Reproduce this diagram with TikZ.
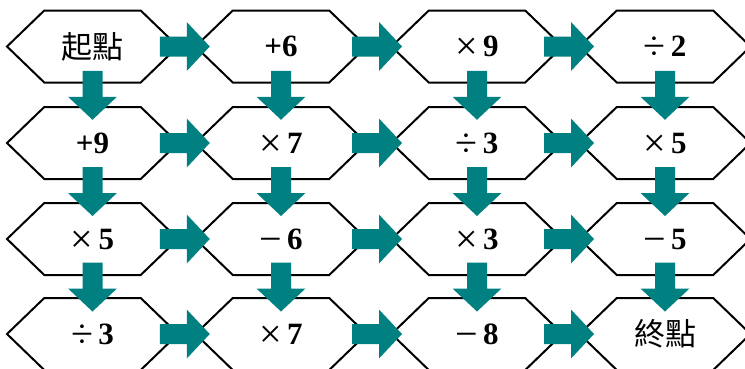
\documentclass[tikz,border=0pt]{standalone}
\usepackage{fontspec}
\setmainfont{Liberation Serif}
\newfontfamily\cjk{Noto Sans CJK TC}
\usepackage{tikz}
\usetikzlibrary{calc,shapes.symbols}
\definecolor{flowteal}{RGB}{0,128,128}

% block arrows between two hexagons
\newcommand{\rarr}[2]{%
  \fill[flowteal] ($(#1.east)!.5!(#2.west)$) ++(-27,-10) -- ++(27,0) -- ++(0,-14.5)
    -- ++(23,24.5) -- ++(-23,24.5) -- ++(0,-14.5) -- ++(-27,0) -- cycle;}
\newcommand{\darr}[2]{%
  \fill[flowteal] ($(#1.south)!.5!(#2.north)$) ++(-10,-24) -- ++(0,26) -- ++(-14.5,0)
    -- ++(24.5,23) -- ++(24.5,-23) -- ++(-14.5,0) -- ++(0,-26) -- cycle;}
\newcommand{\opnum}[2]{\smash{\raisebox{-3pt}{\mdseries\fontsize{40}{40}\selectfont#1}}\,#2}

\begin{document}
\begin{tikzpicture}[x=1pt,y=-1pt,
      hexa/.style={signal,signal to=east and west,signal pointer angle=88,draw=black,
        line width=2,fill=white,minimum width=171,minimum height=72,inner sep=0pt,
        font=\bfseries\fontsize{31}{33}\selectfont},
      endpt/.style={font=\cjk\fontsize{31}{33}\selectfont}]
    \useasboundingbox (0,0) rectangle (745,368);
    \clip (0,0) rectangle (745,368);
    \node[hexa,endpt] (r1c1) at (92.5,46.5) {起點};
    \node[hexa] (r1c2) at (281,46.5)  {+6};
    \node[hexa] (r1c3) at (477,46.5)  {\opnum{×}{9}};
    \node[hexa] (r1c4) at (665,46.5)  {\opnum{÷}{2}};
    \node[hexa] (r2c1) at (92.5,143)  {+9};
    \node[hexa] (r2c2) at (281,143)   {\opnum{×}{7}};
    \node[hexa] (r2c3) at (477,143)   {\opnum{÷}{3}};
    \node[hexa] (r2c4) at (665,143)   {\opnum{×}{5}};
    \node[hexa] (r3c1) at (92.5,239)  {\opnum{×}{5}};
    \node[hexa] (r3c2) at (281,239)   {\opnum{−}{6}};
    \node[hexa] (r3c3) at (477,239)   {\opnum{×}{3}};
    \node[hexa] (r3c4) at (665,239)   {\opnum{−}{5}};
    \node[hexa] (r4c1) at (92.5,334)  {\opnum{÷}{3}};
    \node[hexa] (r4c2) at (281,334)   {\opnum{×}{7}};
    \node[hexa] (r4c3) at (477,334)   {\opnum{−}{8}};
    \node[hexa,endpt] (r4c4) at (665,334) {終點};
    \foreach \r in {1,...,4}
      \foreach \c/\d in {1/2,2/3,3/4}
        \rarr{r\r c\c}{r\r c\d};
    \foreach \c in {1,...,4}
      \foreach \r/\s in {1/2,2/3,3/4}
        \darr{r\r c\c}{r\s c\c};
  \end{tikzpicture}
\end{document}
